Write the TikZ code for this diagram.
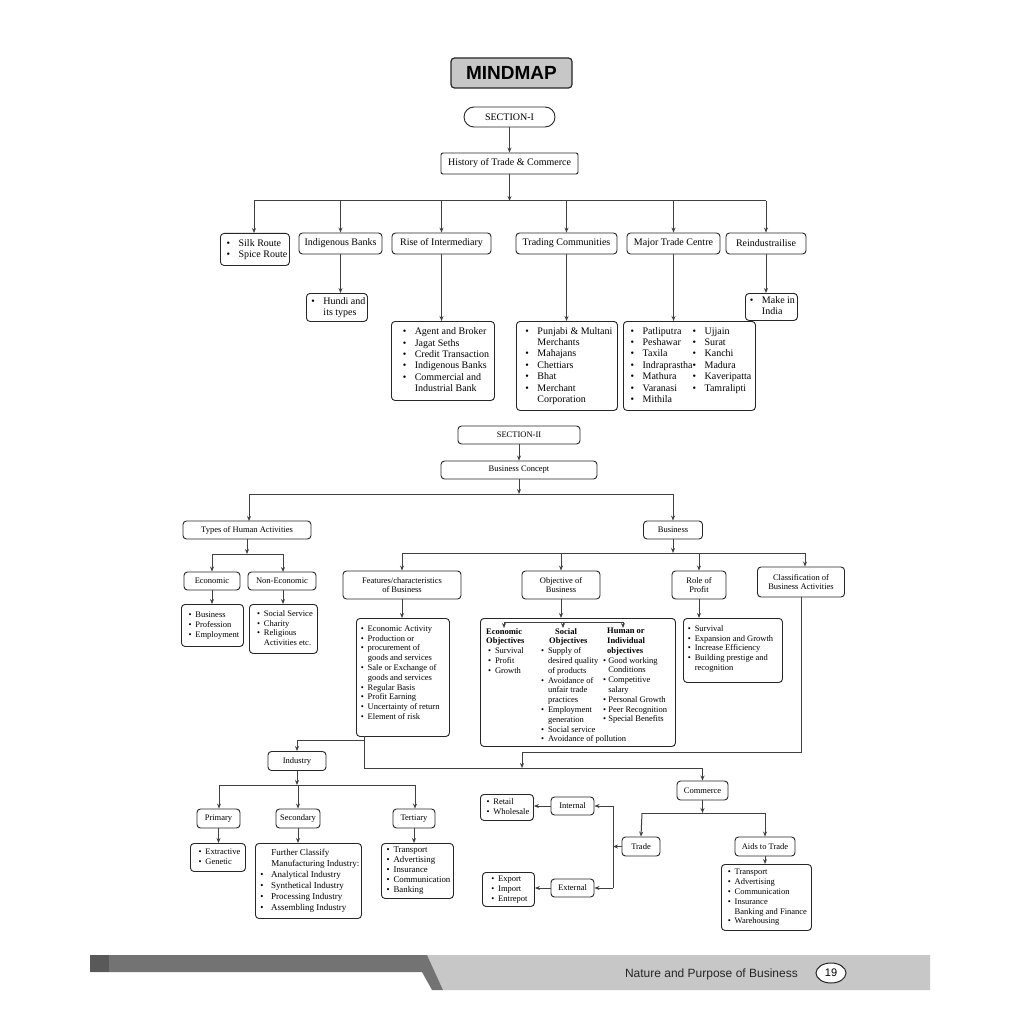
\documentclass[tikz,border=0pt]{standalone}
\usepackage{fontspec}
\setmainfont{Liberation Serif}
\newfontfamily\hdfont{Liberation Sans}
\usetikzlibrary{arrows.meta,shapes.geometric}
\newcommand\fsz[2]{\fontsize{#1}{#2}\selectfont}
\newcommand\itm[1]{\makebox[1.2em][l]{•}#1}
\newcommand\cnt[1]{\hspace*{1.2em}#1}
\newcommand\itb[1]{\makebox[0.8em][l]{•}#1}
\newcommand\cnb[1]{\hspace*{0.8em}#1}
\begin{document}
\begin{tikzpicture}[x=1pt,y=-1pt,
  box/.style={draw=black!85,rounded corners=3.5pt,line width=0.9pt,inner sep=1pt,align=center},
  top/.style={box,font=\fsz{10}{11.4}},
  sec/.style={box,font=\fsz{8.5}{9.8}},
  lt/.style={box,font=\fsz{10}{11.4},align=left,anchor=north west,inner sep=0pt},
  ls/.style={box,font=\fsz{8.5}{9.8},align=left,anchor=north west,inner sep=0pt},
  ln/.style={draw=black!75,line width=1pt},
  arr/.style={ln,-{Stealth[length=5pt,width=4pt]}}]
\useasboundingbox[fill=white] (0,0) rectangle (1024,1024);

% ---------- title & section I
\node[box,fill=black!22,line width=1.2pt,minimum width=121pt,minimum height=30pt,font=\hdfont\bfseries\fontsize{19}{20}\selectfont] (title) at (511.5,73) {MINDMAP};
\node[box,rounded corners=10pt,minimum width=91pt,minimum height=20pt,font=\fsz{10}{11}] (s1) at (509.5,117) {SECTION-I};
\node[top,rounded corners=2pt,minimum width=137pt,minimum height=21pt] (hist) at (509.5,163.5) {History of Trade \& Commerce};
\draw[arr] (s1) -- (hist);
\coordinate (b1) at (509.5,201);
\coordinate (b1L) at (254,201);
\coordinate (b1R) at (766,201);
\draw[arr] (hist) -- (b1);
\draw[ln] (b1L) -- (b1R);

\node[lt,minimum width=69pt,minimum height=32pt] (silk) at (220,233) {\hspace*{4pt}\begin{tabular}{@{}l@{}}\itm{Silk Route}\\\itm{Spice Route}\end{tabular}};
\node[top,minimum width=83pt,minimum height=21pt] (ib) at (340.5,243.5) {Indigenous Banks};
\node[top,minimum width=99pt,minimum height=21pt] (ri) at (441.5,243.5) {Rise of Intermediary};
\node[top,minimum width=101pt,minimum height=21pt] (tc) at (566.5,243.5) {Trading Communities};
\node[top,minimum width=93pt,minimum height=21pt] (mt) at (673.5,243.5) {Major Trade Centre};
\node[top,minimum width=80pt,minimum height=21pt] (re) at (766,243.5) {Reindustrailise};
\foreach \n/\x in {silk/254,ib/340.5,ri/441.5,tc/566.5,mt/673.5,re/766}
  \draw[arr] (\x,201) -- (\n.north -| \x,0);

\node[lt,minimum width=61pt,minimum height=28pt] (hundi) at (306,293) {\hspace*{3pt}\begin{tabular}{@{}l@{}}\itm{Hundi and}\\\cnt{its types}\end{tabular}};
\node[lt,minimum width=103pt,minimum height=79pt] (ril) at (391,321) {\hspace*{6pt}\begin{tabular}{@{}l@{}}\itm{Agent and Broker}\\\itm{Jagat Seths}\\\itm{Credit Transaction}\\\itm{Indigenous Banks}\\\itm{Commercial and}\\\cnt{Industrial Bank}\end{tabular}};
\node[lt,minimum width=101pt,minimum height=89pt] (tcl) at (516,321) {\hspace*{4pt}\begin{tabular}{@{}l@{}}\itm{Punjabi \& Multani}\\\cnt{Merchants}\\\itm{Mahajans}\\\itm{Chettiars}\\\itm{Bhat}\\\itm{Merchant}\\\cnt{Corporation}\end{tabular}};
\node[lt,minimum width=132pt,minimum height=89pt] (mtl) at (623,321) {\hspace*{3pt}\begin{tabular}{@{}l@{}l@{}}\itm{Patliputra}&\itm{Ujjain}\\\itm{Peshawar}&\itm{Surat}\\\itm{Taxila}&\itm{Kanchi}\\\itm{Indraprastha}&\itm{Madura}\\\itm{Mathura}&\itm{Kaveripatta}\\\itm{Varanasi}&\itm{Tamralipti}\\\itm{Mithila}&\end{tabular}};
\node[lt,minimum width=52pt,minimum height=27pt] (mii) at (745,293) {\hspace*{2pt}\begin{tabular}{@{}l@{}}\itm{Make in}\\\cnt{India}\end{tabular}};
\draw[arr] (ib) -- (ib |- hundi.north);
\draw[arr] (ri) -- (ri |- ril.north);
\draw[arr] (tc) -- (tc |- tcl.north);
\draw[arr] (mt) -- (mt |- mtl.north);
\draw[arr] (re) -- (re |- mii.north);

% ---------- section II
\node[sec,minimum width=122pt,minimum height=18pt] (s2) at (519,435) {SECTION-II};
\node[sec,minimum width=156pt,minimum height=18pt] (bc) at (519,470) {Business Concept};
\draw[arr] (s2) -- (bc);
\coordinate (b2) at (519,494);
\draw[arr] (bc) -- (b2);
\draw[ln] (249,494) -- (673,494);
\node[sec,minimum width=128pt,minimum height=18pt] (tha) at (247,530) {Types of Human Activities};
\node[sec,minimum width=59pt,minimum height=18pt] (bus) at (673,530) {Business};
\draw[arr] (249,494) -- (249,521);
\draw[arr] (673,494) -- (bus.north);

\coordinate (b3) at (247,554);
\draw[arr] (tha) -- (b3);
\draw[ln] (212,554) -- (283,554);
\node[sec,minimum width=56pt,minimum height=18pt] (eco) at (212,581) {Economic};
\node[sec,minimum width=68pt,minimum height=18pt] (neco) at (282,581) {Non-Economic};
\draw[arr] (212,554) -- (eco.north);
\draw[arr] (283,554) -- (283,572);
\node[ls,minimum width=62pt,minimum height=42pt] (ecol) at (181,604) {\hspace*{3pt}\begin{tabular}{@{}l@{}}\itb{Business}\\\itb{Profession}\\\itb{Employment}\end{tabular}};
\node[ls,minimum width=68pt,minimum height=49pt] (necol) at (249,604) {\hspace*{3pt}\begin{tabular}{@{}l@{}}\itb{Social Service}\\\itb{Charity}\\\itb{Religious}\\\cnb{Activities etc.}\end{tabular}};
\draw[arr] (eco) -- (eco |- ecol.north);
\draw[arr] (283,590) -- (283,604);

\coordinate (b4) at (673,553);
\draw[arr] (bus) -- (b4);
\draw[ln] (402,553) -- (805,553);
\node[sec,minimum width=118pt,minimum height=28pt] (feat) at (402,585) {Features/characteristics\\of Business};
\node[sec,minimum width=78pt,minimum height=28pt] (obj) at (561,585) {Objective of\\Business};
\node[sec,minimum width=54pt,minimum height=28pt] (rop) at (699,585) {Role of\\Profit};
\node[sec,minimum width=87pt,minimum height=30pt] (cls) at (801,582) {Classification of\\Business Activities};
\foreach \n/\x in {feat/402,obj/561,rop/699,cls/805}
  \draw[arr] (\x,553) -- (\n.north -| \x,0);

\node[ls,minimum width=93pt,minimum height=118pt] (featl) at (356,618) {\parbox[c][112pt][t]{90pt}{\vspace*{3pt}\hspace*{3pt}\begin{tabular}[t]{@{}l@{}}\itb{Economic Activity}\\\itb{Production or}\\\itb{procurement of}\\\cnb{goods and services}\\\itb{Sale or Exchange of}\\\cnb{goods and services}\\\itb{Regular Basis}\\\itb{Profit Earning}\\\itb{Uncertainty of return}\\\itb{Element of risk}\end{tabular}}};
\draw[arr] (feat) -- (feat |- featl.north);

\node[ls,minimum width=195pt,minimum height=128pt] (objl) at (480,618) {};
\draw[arr] (obj) -- (obj |- objl.north);
\draw[ln] (504,622) -- (623,622);
\foreach \x in {504,563,623} \draw[arr] (\x,622) -- (\x,628);
\node[font=\fsz{8.5}{9.8},anchor=north west,inner sep=0pt,align=left] (oc1) at (486,628) {\textbf{Economic}\\\textbf{Objectives}\\\hspace*{2pt}\itb{Survival}\\\hspace*{2pt}\itb{Profit}\\\hspace*{2pt}\itb{Growth}};
\node[font=\fsz{8.5}{9.8},anchor=north west,inner sep=0pt,align=left] (oc2) at (541,628) {\hspace*{14pt}\textbf{Social}\\\hspace*{8pt}\textbf{Objectives}\\\itb{Supply of}\\\cnb{desired quality}\\\cnb{of products}\\\itb{Avoidance of}\\\cnb{unfair trade}\\\cnb{practices}\\\itb{Employment}\\\cnb{generation}\\\itb{Social service}\\\itb{Avoidance of pollution}};
\node[font=\fsz{8.5}{9.8},anchor=north west,inner sep=0pt,align=left] (oc3) at (603,628) {\hspace*{4pt}\textbf{Human or}\\\hspace*{4pt}\textbf{Individual}\\\hspace*{4pt}\textbf{objectives}\\\makebox[0.6em][l]{•}Good working\\\hspace*{0.6em}Conditions\\\makebox[0.6em][l]{•}Competitive\\\hspace*{0.6em}salary\\\makebox[0.6em][l]{•}Personal Growth\\\makebox[0.6em][l]{•}Peer Recognition\\\makebox[0.6em][l]{•}Special Benefits};

\node[ls,minimum width=99pt,minimum height=64pt] (ropl) at (683,618) {\parbox[c][58pt][t]{96pt}{\vspace*{3pt}\hspace*{3pt}\begin{tabular}[t]{@{}l@{}}\itb{Survival}\\\itb{Expansion and Growth}\\\itb{Increase Efficiency}\\\itb{Building prestige and}\\\cnb{recognition}\end{tabular}}};
\draw[arr] (rop) -- (rop |- ropl.north);

% ---------- industry / commerce
\node[sec,minimum width=58pt,minimum height=19pt] (ind) at (297,761) {Industry};
\node[sec,minimum width=51pt,minimum height=19pt] (com) at (702.5,790.5) {Commerce};
\coordinate (j1) at (364,740);
\coordinate (j2) at (364,768);
\coordinate (j3) at (702.5,768);
\coordinate (j4) at (522,752);
\draw[ln] (364,736) -- (j1) -- (297,740);
\draw[arr] (297,740) -- (ind.north);
\draw[ln] (j1) -- (j2) -- (j3);
\draw[arr] (j3) -- (com.north);
\draw[ln] (cls.south -| 801,0) -- (801,752) -- (j4);
\draw[arr] (j4) -- (522,768);

\coordinate (b5) at (297,785);
\draw[arr] (ind) -- (b5);
\draw[ln] (219,785) -- (415,785);
\node[sec,minimum width=43pt,minimum height=19pt] (pri) at (218.5,818.5) {Primary};
\node[sec,minimum width=44pt,minimum height=19pt] (seco) at (298,818.5) {Secondary};
\node[sec,minimum width=42pt,minimum height=19pt] (ter) at (414,818.5) {Tertiary};
\foreach \n/\x in {pri/219,seco/298,ter/415}
  \draw[arr] (\x,785) -- (\n.north -| \x,0);
\node[ls,minimum width=55pt,minimum height=28pt] (pril) at (190,843) {\hspace*{3pt}\begin{tabular}{@{}l@{}}\itb{Extractive}\\\itb{Genetic}\end{tabular}};
\node[ls,font=\fsz{9}{11},minimum width=103pt,minimum height=75pt] (secl) at (255,843) {\hspace*{5pt}\begin{tabular}{@{}l@{}}\cnt{Further Classify}\\\cnt{Manufacturing Industry:}\\\itm{Analytical Industry}\\\itm{Synthetical Industry}\\\itm{Processing Industry}\\\itm{Assembling Industry}\end{tabular}\hspace*{2pt}};
\node[ls,font=\fsz{8.8}{10},minimum width=72pt,minimum height=55pt] (terl) at (381,843) {\hspace*{2pt}\begin{tabular}{@{}l@{}}\itb{Transport}\\\itb{Advertising}\\\itb{Insurance}\\\itb{Communication}\\\itb{Banking}\end{tabular}};
\draw[arr] (pri) -- (pri |- pril.north);
\draw[arr] (seco) -- (seco |- secl.north);
\draw[arr] (ter) -- (ter |- terl.north);

\coordinate (b6) at (702.5,813);
\draw[arr] (com) -- (b6);
\draw[ln] (642,813) -- (765,813);
\node[sec,minimum width=38pt,minimum height=19pt] (trade) at (641,846.5) {Trade};
\node[sec,minimum width=60pt,minimum height=19pt] (aids) at (765,846.5) {Aids to Trade};
\draw[arr] (642,813) -- (trade.north);
\draw[arr] (765,813) -- (aids.north);
\node[ls,minimum width=90pt,minimum height=66pt] (aidsl) at (721,864) {\hspace*{2pt}\begin{tabular}{@{}l@{}}\itb{Transport}\\\itb{Advertising}\\\itb{Communication}\\\itb{Insurance}\\\cnb{Banking and Finance}\\\itb{Warehousing}\end{tabular}};
\draw[arr] (aids) -- (aids |- aidsl.north);

\node[sec,minimum width=43pt,minimum height=18pt] (intl) at (572.5,806) {Internal};
\node[sec,minimum width=43pt,minimum height=18pt] (extl) at (572.5,888) {External};
\coordinate (v0) at (613,846.5);
\draw[arr] (trade) -- (v0);
\draw[ln] (613,806) -- (613,888);
\draw[arr] (613,806) -- (intl.east);
\draw[arr] (613,888) -- (extl.east);
\node[ls,minimum width=53pt,minimum height=26pt] (rw) at (480,794) {\hspace*{2pt}\begin{tabular}{@{}l@{}}\itb{Retail}\\\itb{Wholesale}\end{tabular}};
\node[ls,minimum width=52pt,minimum height=34pt] (eie) at (482,872) {\hspace*{2pt}\begin{tabular}{@{}l@{}}\itb{Export}\\\itb{Import}\\\itb{Entrepot}\end{tabular}};
\draw[arr] (intl) -- (rw.east |- intl);
\draw[arr] (extl) -- (eie.east |- extl);

% ---------- footer
\fill[black!22] (427,955) -- (930,955) -- (930,990) -- (443,990) -- cycle;
\fill[black!55] (90,955) -- (427,955) -- (443,990) -- (432,990) -- (422,972) -- (90,972) -- cycle;
\fill[black!65] (90,955) rectangle (109,972);
\node[font=\hdfont\fontsize{12}{13}\selectfont,text=black!85,anchor=east,inner sep=0pt] (foot) at (798,974) {Nature and Purpose of Business};
\node[draw=black!85,fill=white,line width=1pt,ellipse,minimum width=30pt,minimum height=20pt,inner sep=0pt,font=\hdfont\fontsize{11}{12}\selectfont] (pg) at (831,973) {19};
\end{tikzpicture}
\end{document}
